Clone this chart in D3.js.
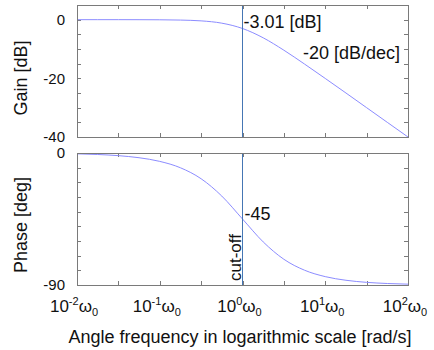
<!DOCTYPE html>
<html><head><meta charset="utf-8">
<script src="https://cdn.jsdelivr.net/npm/d3@7"></script>
<style>
body{margin:0;background:#fff}
svg text{font-family:"Liberation Sans",Arial,sans-serif;fill:#111}
</style>
</head><body><svg id="c" width="434" height="350"></svg>
<script>
// ---- data ----
const freq      = [0.01, 0.0178, 0.0316, 0.0562, 0.1, 0.178, 0.316, 0.562, 1, 1.78, 3.16, 5.62, 10, 17.8, 31.6, 56.2, 100];
const gainDb    = [0, 0, 0, -0.01, -0.04, -0.14, -0.41, -1.19, -3.01, -6.19, -10.41, -15.13, -20.04, -25.01, -30.0, -35.0, -40.0];
const phaseDeg  = [-0.57, -1.02, -1.81, -3.22, -5.71, -10.08, -17.55, -29.36, -45, -60.64, -72.45, -79.92, -84.29, -86.78, -88.19, -88.98, -89.43];
const xMajorTicks = [0.01, 0.1, 1, 10, 100];
const xTickExponents = ["-2", "-1", "0", "1", "2"];
const xMinorTicks = [0.0316, 0.316, 3.16, 31.6];
const gainLabelTicks = [0, -20, -40];
const gainMinorTicks = [-5, -10, -15, -25, -30, -35];
const phaseLabelTicks = [0, -90];
const phaseMinorTicks = [-10, -20, -30, -40, -50, -60, -70, -80];
const cutoffFreq = 1;
const cutoffGain = -3.01;
const cutoffPhase = -45;

const svg = d3.select("#c");
const L = 77, R = 408;
const x = d3.scaleLog().domain([0.01, 100]).range([L, R]);
const yG = d3.scaleLinear().domain([-40, 5]).range([137, 5]);
const yP = d3.scaleLinear().domain([-90, 0]).range([285, 153]);

const curveCol = "#8c8cff", borderCol = "#7a7a7a", cutCol = "#4576b4";

function panel(y, labelTicks, minorTicks, values) {
  const [yb, yt] = y.range();
  const g = svg.append("g");
  const allY = labelTicks.concat(minorTicks);
  const allX = xMajorTicks.concat(xMinorTicks);
  const tickStyle = sel => {
    sel.select(".domain").remove();
    sel.selectAll("line").attr("stroke", borderCol).attr("shape-rendering", "crispEdges");
    sel.selectAll("text").remove();
  };
  g.append("g").attr("transform", `translate(${L},0)`).call(d3.axisLeft(y).tickValues(allY).tickSize(-4)).call(tickStyle);
  g.append("g").attr("transform", `translate(${R},0)`).call(d3.axisRight(y).tickValues(allY).tickSize(-4)).call(tickStyle);
  g.append("g").attr("transform", `translate(0,${yb})`).call(d3.axisBottom(x).tickValues(allX).tickSize(-4)).call(tickStyle);
  g.append("g").attr("transform", `translate(0,${yt})`).call(d3.axisTop(x).tickValues(allX).tickSize(-4)).call(tickStyle);
  // labels
  const lab = g.append("g").attr("transform", `translate(${L},0)`)
    .call(d3.axisLeft(y).tickValues(labelTicks).tickSize(0).tickPadding(12).tickFormat(d => String(d)));
  lab.select(".domain").remove();
  lab.selectAll("text").attr("font-size", 15).attr("font-family", null).attr("fill", "#111");
  // curve
  const line = d3.line().x((d, i) => x(freq[i])).y(d => y(d)).curve(d3.curveMonotoneX);
  g.append("path").attr("d", line(values)).attr("fill", "none").attr("stroke", curveCol).attr("stroke-width", 1);
  // cut-off line
  g.append("line").attr("x1", x(cutoffFreq)).attr("x2", x(cutoffFreq)).attr("y1", yt).attr("y2", yb)
    .attr("stroke", cutCol).attr("stroke-width", 1);
  // border
  g.append("rect").attr("x", L).attr("y", yt).attr("width", R - L).attr("height", yb - yt)
    .attr("fill", "none").attr("stroke", borderCol).attr("stroke-width", 1).attr("shape-rendering", "crispEdges");
  return g;
}

panel(yG, gainLabelTicks, gainMinorTicks, gainDb);
panel(yP, phaseLabelTicks, phaseMinorTicks, phaseDeg);

// x tick labels
xMajorTicks.forEach((f, i) => {
  const t = svg.append("text").attr("x", x(f) - 3).attr("y", 312).attr("text-anchor", "middle").attr("font-size", 17);
  t.append("tspan").text("10");
  t.append("tspan").attr("font-size", 11).attr("dy", -7).text(xTickExponents[i]);
  t.append("tspan").attr("dy", 7).text("ω");
  t.append("tspan").attr("font-size", 11).attr("dy", 4).text("0");
});

// axis titles
svg.append("text").attr("x", 240).attr("y", 343).attr("text-anchor", "middle").attr("font-size", 18)
  .text("Angle frequency in logarithmic scale [rad/s]");
svg.append("text").attr("transform", "translate(27,78) rotate(-90)").attr("text-anchor", "middle").attr("font-size", 18).text("Gain [dB]");
svg.append("text").attr("transform", "translate(27,225) rotate(-90)").attr("text-anchor", "middle").attr("font-size", 18).text("Phase [deg]");

// annotations
svg.append("text").attr("x", x(cutoffFreq) + 1).attr("y", 28).attr("font-size", 18).text(cutoffGain.toFixed(2) + " [dB]");
svg.append("text").attr("x", 303).attr("y", 59).attr("font-size", 18).text("-20 [dB/dec]");
svg.append("text").attr("x", x(cutoffFreq) + 2).attr("y", 220).attr("font-size", 18).text(String(cutoffPhase));
svg.append("text").attr("transform", `translate(${x(cutoffFreq) - 2},281) rotate(-90)`).attr("font-size", 17).text("cut-off");
</script>
</body></html>
